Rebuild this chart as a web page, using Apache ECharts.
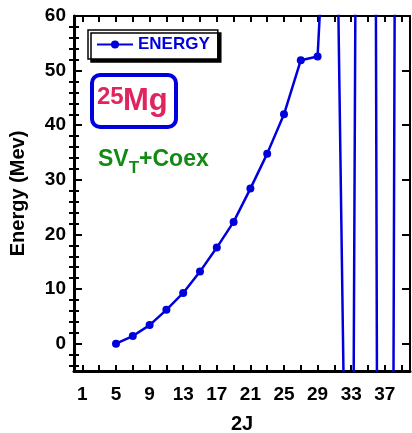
<!DOCTYPE html>
<html>
<head>
<meta charset="utf-8">
<script src="https://cdn.jsdelivr.net/npm/echarts@6/dist/echarts.min.js"></script>
<style>
  html, body { margin: 0; padding: 0; background: #fff; }
  #chart { width: 412px; height: 433px; }
</style>
</head>
<body>
<div id="chart"></div>
<script>
// Energy levels of 25Mg versus 2J
const twoJ   = [5, 7, 9, 11, 13, 15, 17, 19, 21, 23, 25, 27, 29, 31, 33, 35, 37, 39];
const energy = [0, 1.4, 3.4, 6.2, 9.3, 13.2, 17.6, 22.3, 28.4, 34.8, 42.0, 51.9, 52.6,
                112, -105, 567, -508, 463];

const xLabelValues = [1, 5, 9, 13, 17, 21, 25, 29, 33, 37];
const xTickValues  = [1, 3, 5, 7, 9, 11, 13, 15, 17, 19, 21, 23, 25, 27, 29, 31, 33, 35, 37, 39];
const yLabelValues = [0, 10, 20, 30, 40, 50, 60];
const yMinorValues = [-4, -2, 2, 4, 6, 8, 12, 14, 16, 18, 22, 24, 26, 28, 32, 34, 36, 38,
                      42, 44, 46, 48, 52, 54, 56, 58];

const FONT = "'Liberation Sans', Arial, Helvetica, sans-serif";
const BLUE = '#0000dd';
const CRIMSON = '#e0245e';
const GREEN = '#138a13';

const chart = echarts.init(document.getElementById('chart'), null, { renderer: 'canvas' });

const hidden = { show: false };
function tickAxis(extra) {
  return Object.assign({
    type: 'value',
    splitLine: hidden,
    axisLabel: hidden
  }, extra);
}

chart.setOption({
  animation: false,
  backgroundColor: '#fff',
  grid: { left: 74, top: 16, width: 336, height: 355, containLabel: false, outerBoundsMode: 'none' },
  legend: {
    data: ['ENERGY'],
    left: 88, top: 30,
    padding: [6, 8, 6, 8],
    itemWidth: 36, itemHeight: 10,
    backgroundColor: '#fff',
    borderColor: '#000', borderWidth: 1.5,
    shadowColor: '#000', shadowBlur: 0, shadowOffsetX: 3, shadowOffsetY: 3,
    textStyle: { color: BLUE, fontWeight: 'bold', fontSize: 17, fontFamily: FONT }
  },
  xAxis: [
    {
      type: 'value', min: 0, max: 40, position: 'bottom',
      name: '2J', nameLocation: 'middle', nameGap: 43,
      nameTextStyle: { color: '#000', fontWeight: 'bold', fontSize: 20, fontFamily: FONT },
      axisLine: { show: true, onZero: false, lineStyle: { color: '#000', width: 3 } },
      axisTick: { show: true, inside: true, length: 6, customValues: xTickValues,
                  lineStyle: { color: '#000', width: 2 } },
      axisLabel: { show: true, margin: 14, customValues: xLabelValues,
                   color: '#000', fontWeight: 'bold', fontSize: 19, fontFamily: FONT },
      splitLine: hidden
    },
    tickAxis({
      min: 0, max: 40, position: 'top',
      axisLine: { show: true, onZero: false, lineStyle: { color: '#000', width: 2 } },
      axisTick: { show: true, inside: true, length: 6, customValues: xTickValues,
                  lineStyle: { color: '#000', width: 2 } }
    })
  ],
  yAxis: [
    {
      type: 'value', min: -5, max: 60, position: 'left',
      name: 'Energy (Mev)', nameLocation: 'middle', nameGap: 46, nameRotate: 90,
      nameTextStyle: { color: '#000', fontWeight: 'bold', fontSize: 20, fontFamily: FONT },
      axisLine: { show: true, onZero: false, lineStyle: { color: '#000', width: 3 } },
      axisTick: { show: true, inside: true, length: 8, customValues: yLabelValues,
                  lineStyle: { color: '#000', width: 2 } },
      axisLabel: { show: true, margin: 8, customValues: yLabelValues,
                   color: '#000', fontWeight: 'bold', fontSize: 19, fontFamily: FONT },
      splitLine: hidden
    },
    tickAxis({
      min: -5, max: 60, position: 'left',
      axisLine: hidden,
      axisTick: { show: true, inside: true, length: 5, customValues: yMinorValues,
                  lineStyle: { color: '#000', width: 2 } }
    }),
    tickAxis({
      min: -5, max: 60, position: 'right',
      axisLine: { show: true, onZero: false, lineStyle: { color: '#000', width: 2 } },
      axisTick: { show: true, inside: true, length: 8, customValues: yLabelValues,
                  lineStyle: { color: '#000', width: 2 } }
    }),
    tickAxis({
      min: -5, max: 60, position: 'right',
      axisLine: hidden,
      axisTick: { show: true, inside: true, length: 5, customValues: yMinorValues,
                  lineStyle: { color: '#000', width: 2 } }
    })
  ],
  series: [
    {
      name: 'ENERGY',
      type: 'line',
      xAxisIndex: 0, yAxisIndex: 0,
      data: twoJ.map((j, i) => [j, energy[i]]),
      clip: true,
      symbol: 'circle', symbolSize: 8,
      lineStyle: { color: BLUE, width: 2.5 },
      itemStyle: { color: BLUE }
    }
  ],
  graphic: [
    {
      type: 'rect',
      shape: { x: 92, y: 75, width: 84, height: 52, r: 8 },
      style: { fill: '#fff', stroke: BLUE, lineWidth: 4 },
      z: 10
    },
    {
      type: 'text', x: 97, y: 97, z: 11,
      style: { text: '25', fontSize: 24, fontWeight: 'bold', fontFamily: FONT,
               fill: CRIMSON, align: 'left', verticalAlign: 'middle' }
    },
    {
      type: 'text', x: 123, y: 101, z: 11,
      style: { text: 'Mg', fontSize: 31, fontWeight: 'bold', fontFamily: FONT,
               fill: CRIMSON, align: 'left', verticalAlign: 'middle' }
    },
    {
      type: 'text', x: 98, y: 148, z: 11,
      style: {
        text: '{a|SV}{b|T}{a|+Coex}',
        rich: {
          a: { fontSize: 23, fontWeight: 'bold', fontFamily: FONT, fill: GREEN,
               verticalAlign: 'top', lineHeight: 28 },
          b: { fontSize: 17, fontWeight: 'bold', fontFamily: FONT, fill: GREEN,
               verticalAlign: 'bottom', lineHeight: 29 }
        }
      }
    }
  ]
});
</script>
</body>
</html>
